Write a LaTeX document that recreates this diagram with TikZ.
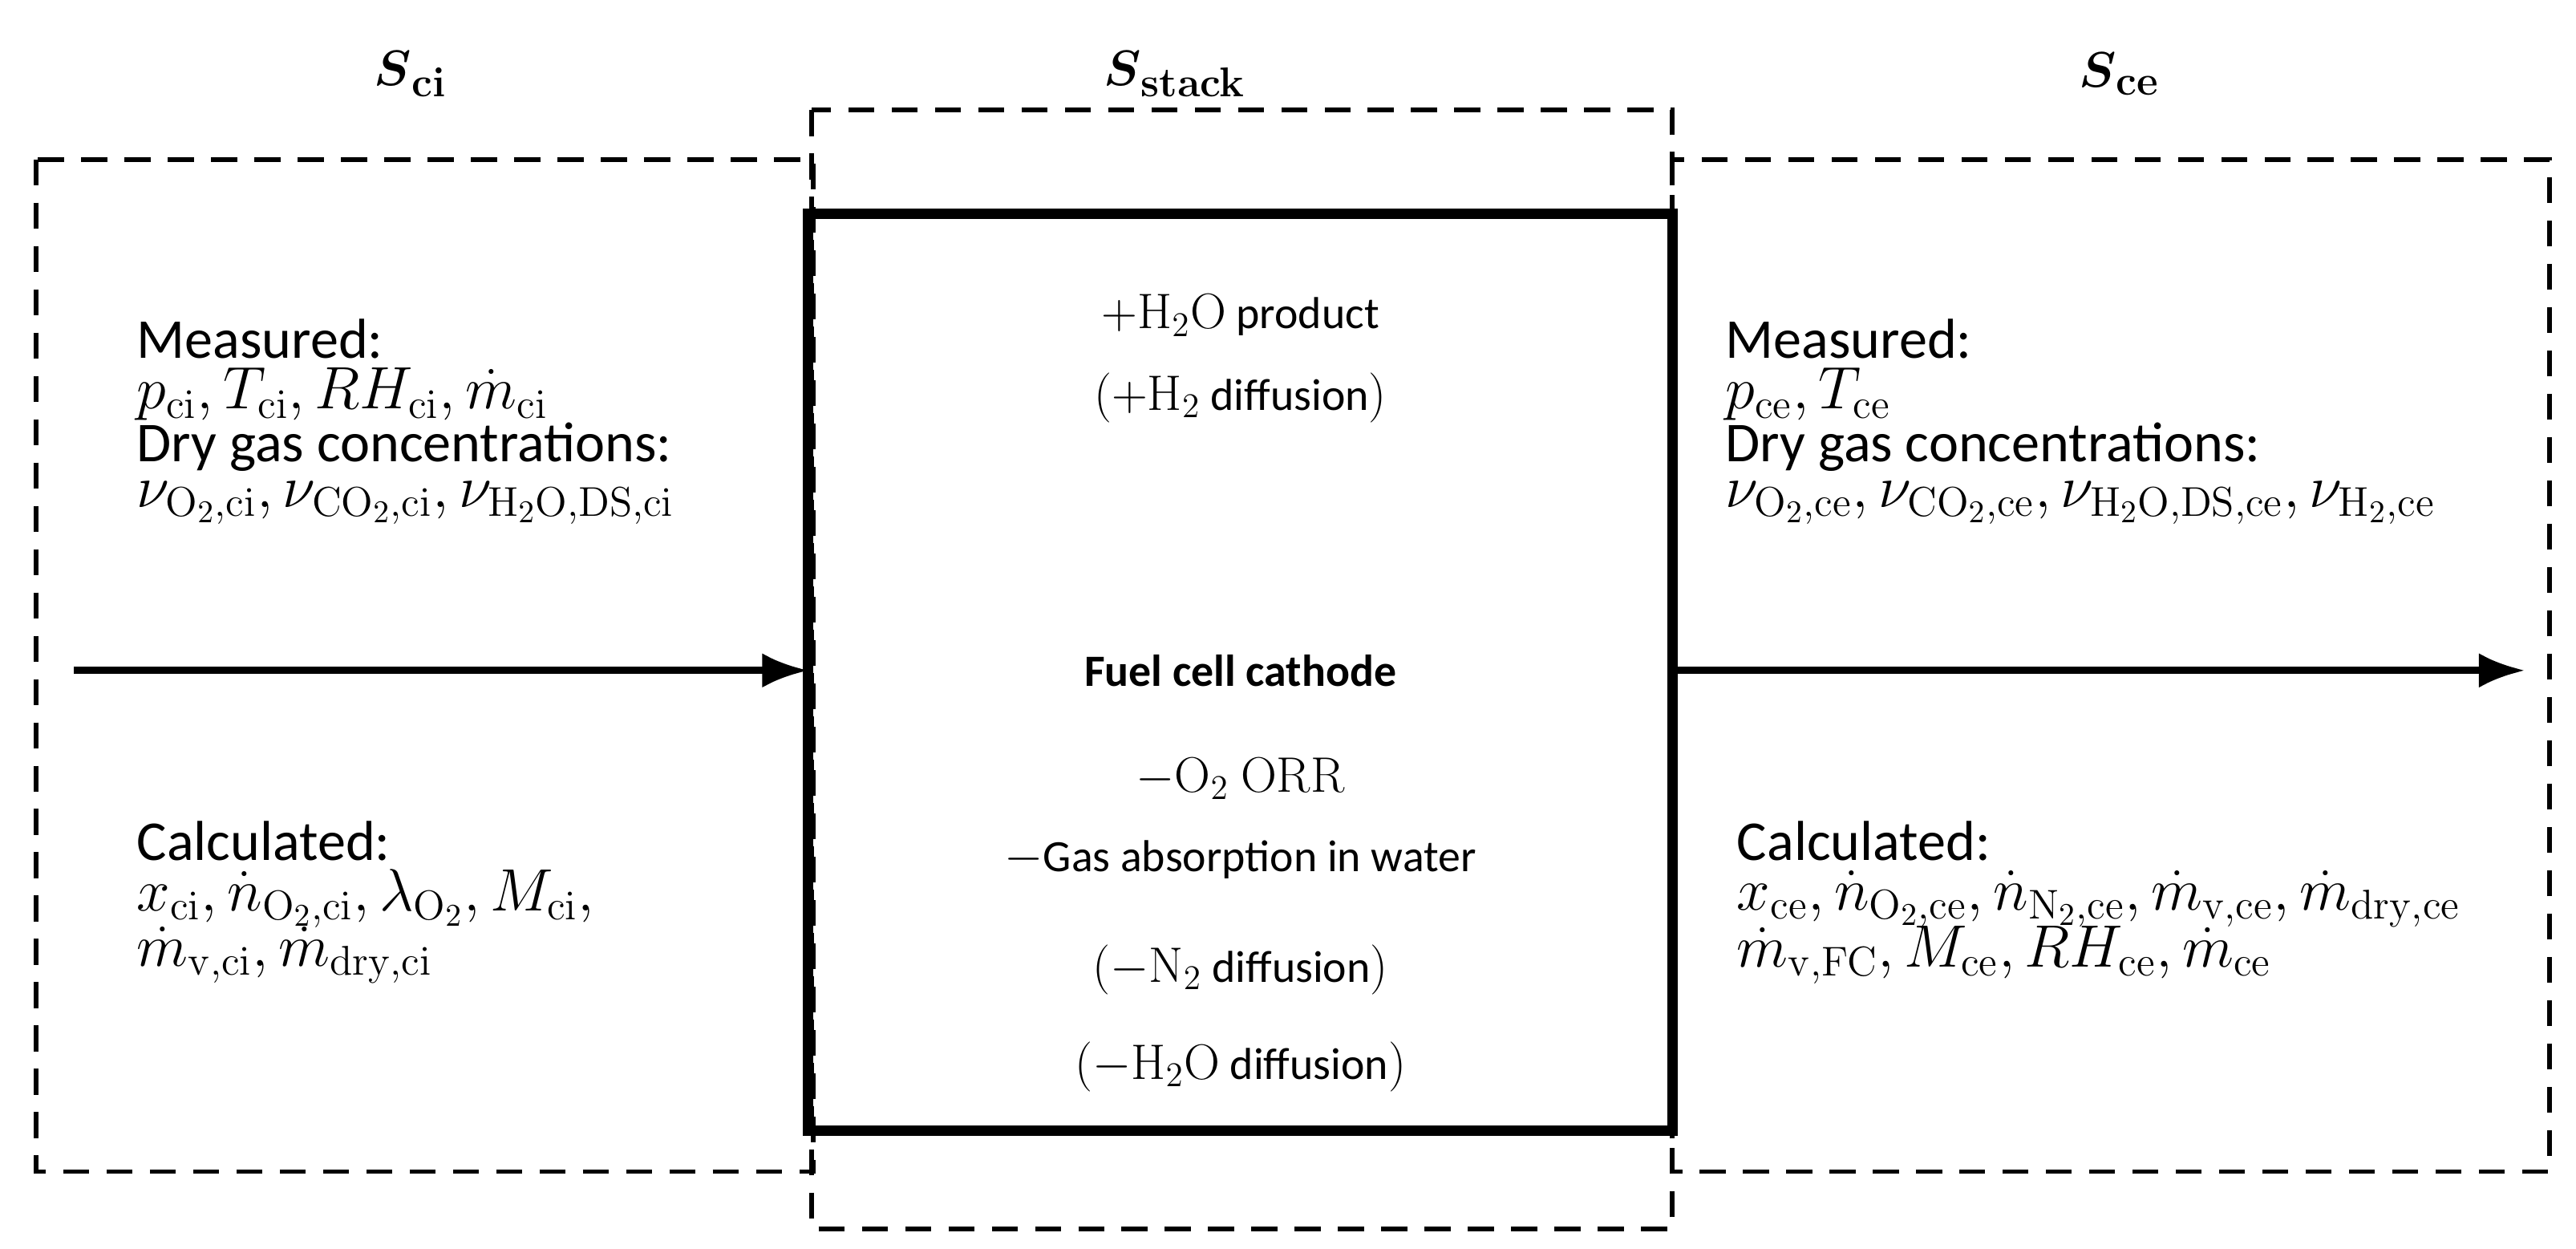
\documentclass[tikz,border=0pt]{standalone}
\usepackage{amsmath}
\usepackage[no-math]{fontspec}
\setmainfont{Carlito}
\usetikzlibrary{arrows.meta}
\newcommand{\mymath}[1]{{\fontsize{18}{18}\selectfont$#1$}}
\newcommand{\sidemath}[1]{{\fontsize{21}{21}\selectfont$#1$}}
\begin{document}
\begin{tikzpicture}[x=0.02cm,y=-0.02cm,
  dbox/.style={draw,line width=1.6pt,dash pattern=on 9pt off 6pt},
  txt/.style={anchor=west,font=\fontsize{19.5}{20}\selectfont,inner sep=0},
  ctxt/.style={anchor=center,font=\fontsize{15.5}{18}\selectfont,inner sep=0},
  hd/.style={font=\fontsize{19}{20}\selectfont,inner sep=0},
  arr/.style={line width=2.4pt,-{Latex[length=16pt,width=12pt]}}]
\useasboundingbox (0,0) rectangle (1568,760);
\draw[dbox] (22,97) rectangle (495,713);
\draw[dbox] (494,67) rectangle (1018,748);
\draw[dbox] (1018,97) rectangle (1552,713);
\draw[line width=3.6pt] (492,130) rectangle (1018,688);
\coordinate (ls) at (45,408);
\coordinate (le) at (492,408);
\coordinate (rs) at (1018,408);
\coordinate (re) at (1537,408);
\draw[arr] (ls) -- (le);
\draw[arr] (rs) -- (re);
\node[hd] (hci) at (250,45) {$\boldsymbol{S}_{\mathbf{ci}}$};
\node[hd] (hst) at (715,45) {$\boldsymbol{S}_{\mathbf{stack}}$};
\node[hd] (hce) at (1290,45) {$\boldsymbol{S}_{\mathbf{ce}}$};
% left
\node[txt] (l1) at (83,206) {Measured:};
\node[txt] (l2) at (83,240) {\sidemath{p_{\mathrm{ci}}, T_{\mathrm{ci}}, RH_{\mathrm{ci}}, \dot m_{\mathrm{ci}}}};
\node[txt] (l3) at (83,272) {Dry gas concentrations:};
\node[txt] (l4) at (83,306) {\sidemath{\nu_{\mathrm{O_2,ci}}, \nu_{\mathrm{CO_2,ci}}, \nu_{\mathrm{H_2O,DS,ci}}}};
\node[txt] (l5) at (83,512) {Calculated:};
\node[txt] (l6) at (83,547) {\sidemath{x_{\mathrm{ci}}, \dot n_{\mathrm{O_2,ci}}, \lambda_{\mathrm{O_2}}, M_{\mathrm{ci}},}};
\node[txt] (l7) at (83,581) {\sidemath{\dot m_{\mathrm{v,ci}}, \dot m_{\mathrm{dry,ci}}}};
% right
\node[txt] (r1) at (1050,206) {Measured:};
\node[txt] (r2) at (1050,240) {\sidemath{p_{\mathrm{ce}}, T_{\mathrm{ce}}}};
\node[txt] (r3) at (1050,272) {Dry gas concentrations:};
\node[txt] (r4) at (1050,306) {\sidemath{\nu_{\mathrm{O_2,ce}}, \nu_{\mathrm{CO_2,ce}}, \nu_{\mathrm{H_2O,DS,ce}}, \nu_{\mathrm{H_2,ce}}}};
\node[txt] (r5) at (1057,512) {Calculated:};
\node[txt] (r6) at (1057,547) {\sidemath{x_{\mathrm{ce}}, \dot n_{\mathrm{O_2,ce}}, \dot n_{\mathrm{N_2,ce}}, \dot m_{\mathrm{v,ce}}, \dot m_{\mathrm{dry,ce}}}};
\node[txt] (r7) at (1057,581) {\sidemath{\dot m_{\mathrm{v,FC}}, M_{\mathrm{ce}}, RH_{\mathrm{ce}}, \dot m_{\mathrm{ce}}}};
% center
\node[ctxt] (c1) at (755,192) {\mymath{+\mathrm{H_2O}} product};
\node[ctxt] (c2) at (755,242) {\mymath{(+\mathrm{H_2}} diffusion\mymath{)}};
\node[ctxt,font=\fontsize{15.5}{18}\selectfont\bfseries] (c3) at (755,408) {Fuel cell cathode};
\node[ctxt] (c4) at (755,474) {\mymath{-\mathrm{O_2}\ \mathrm{ORR}}};
\node[ctxt] (c5) at (755,523) {\mymath{-}Gas absorption in water};
\node[ctxt] (c6) at (755,590) {\mymath{(-\mathrm{N_2}} diffusion\mymath{)}};
\node[ctxt] (c7) at (755,649) {\mymath{(-\mathrm{H_2O}} diffusion\mymath{)}};
\end{tikzpicture}
\end{document}
